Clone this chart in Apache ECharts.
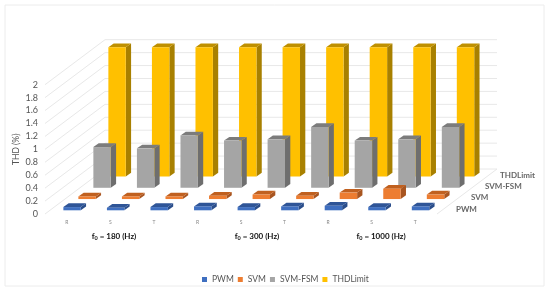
<!DOCTYPE html>
<html><head><meta charset="utf-8">
<script src="https://cdn.jsdelivr.net/npm/echarts@6/dist/echarts.min.js"></script>
<style>html,body{margin:0;padding:0;background:#fff}#c{width:550px;height:293px;filter:blur(0.4px)}</style>
</head><body><div id="c"></div>
<script>
const categories = ['R','S','T','R','S','T','R','S','T'];
const seriesNames = ['PWM','SVM','SVM-FSM','THDLimit'];
const pwm = [0.05,0.04,0.05,0.06,0.05,0.06,0.07,0.05,0.06];
const svm = [0.04,0.04,0.04,0.05,0.07,0.05,0.10,0.16,0.07];
const svmFsm = [0.63,0.61,0.81,0.73,0.75,0.94,0.73,0.75,0.94];
const thdLimit = [2,2,2,2,2,2,2,2,2];
const gridTicks = [0,0.2,0.4,0.6,0.8,1,1.2,1.4,1.6,1.8,2];
const groupLabels = ['180','300','1000'];
const groupLabelX = [114,257,381];
const depthLabelX = [456,471,485,500];
const depthLabelY = [209,197,186,175];
const faceColors = [
  {front:'#3f6fc0',top:'#2f5597',side:'#2a4d8a'},
  {front:'#ed7d31',top:'#c0601f',side:'#a85520'},
  {front:'#a5a5a5',top:'#7c7c7c',side:'#6e6e6e'},
  {front:'#ffc000',top:'#bf9000',side:'#a88000'}
];
const values = [pwm,svm,svmFsm,thdLimit];
const depthX=60, depthY=-45, barDx=5.3, barDy=-3.7, slotDx=15, slotDy=-11.25;

function poly(pts,fill){return {type:'polygon',shape:{points:pts},style:{fill:fill}};}
function barRender(s){
  return function(params,api){
    const cat=api.value(0), v=api.value(1);
    const c0=api.coord([cat,0]), c1=api.coord([cat,v]);
    const w=api.size([1,0])[0]*0.4;
    const ox=barDx+slotDx*s, oy=barDy+slotDy*s;
    const x0=c0[0]-w/2+ox, x1=x0+w, yb=c0[1]+oy, yt=c1[1]+oy;
    const col=faceColors[s];
    return {type:'group',children:[
      poly([[x1,yb],[x1+barDx,yb+barDy],[x1+barDx,yt+barDy],[x1,yt]],col.side),
      poly([[x0,yt],[x1,yt],[x1+barDx,yt+barDy],[x0+barDx,yt+barDy]],col.top),
      poly([[x0,yb],[x1,yb],[x1,yt],[x0,yt]],col.front)
    ]};
  };
}
function wallRender(params,api){
  const t=api.value(1), cs=params.coordSys, p=api.coord([0,t]);
  const left=cs.x, right=cs.x+cs.width, y=p[1];
  const st={stroke:'#e8e8e8',lineWidth:1,fill:null};
  const kids=[
    {type:'line',shape:{x1:left,y1:y,x2:left+depthX,y2:y+depthY},style:st},
    {type:'line',shape:{x1:left+depthX,y1:y+depthY,x2:right+depthX,y2:y+depthY},style:st}
  ];
  if(t===0) kids.push({type:'line',shape:{x1:right,y1:y,x2:right+depthX,y2:y+depthY},style:st});
  return {type:'group',children:kids};
}
const labelFont='Lato';
const graphics=[
  {type:'rect',z:-10,shape:{x:5,y:5,width:539,height:281},style:{fill:'#fff',stroke:'#ececec',lineWidth:1}}
];
groupLabels.forEach((g,i)=>graphics.push({type:'text',x:groupLabelX[i],y:236,z:10,style:{
  text:'{b|f}{s|0}{b| = '+g+' (Hz)}',align:'center',verticalAlign:'middle',
  rich:{b:{fontFamily:labelFont,fontSize:8,fontWeight:'bold',fill:'#111'},
        s:{fontFamily:labelFont,fontSize:5.5,fontWeight:'bold',fill:'#111',padding:[5,0,0,0]}}
}}));
seriesNames.forEach((n,i)=>graphics.push({type:'text',x:depthLabelX[i],y:depthLabelY[i],z:10,style:{
  text:n,align:'left',verticalAlign:'middle',fontFamily:labelFont,fontSize:8,fontWeight:'bold',fill:'#666'
}}));

const series=[{
  name:'walls',type:'custom',silent:true,z:1,renderItem:wallRender,
  data:gridTicks.map(t=>[0,t]),encode:{x:0,y:1}
}];
seriesNames.forEach((n,s)=>series.push({
  name:n,type:'custom',z:5-s,renderItem:barRender(s),
  itemStyle:{color:faceColors[s].front},
  encode:{x:0,y:1},
  data:values[s].map((v,i)=>[i,v])
}));

const chart=echarts.init(document.getElementById('c'),null,{renderer:'canvas'});
chart.setOption({
  animation:false,
  backgroundColor:'#fff',
  textStyle:{fontFamily:labelFont},
  grid:{left:45,right:113,top:84.7,bottom:79,outerBoundsMode:'none'},
  legend:{data:seriesNames,left:197,top:270,itemWidth:5,itemHeight:5,itemGap:4,icon:'rect',
    textStyle:{fontFamily:labelFont,fontSize:8.5,color:'#555'}},
  xAxis:{type:'category',data:categories,boundaryGap:true,
    axisLine:{show:false},axisTick:{show:false},splitLine:{show:false},
    axisLabel:{fontSize:5,color:'#888',margin:6,interval:0}},
  yAxis:{type:'value',min:0,max:2,interval:0.2,
    name:'THD (%)',nameLocation:'middle',nameGap:24,nameMoveOverlap:false,
    nameTextStyle:{fontFamily:labelFont,fontSize:8.5,color:'#555'},
    axisLine:{show:false},axisTick:{show:false},splitLine:{show:false},
    axisLabel:{fontSize:9,color:'#555',margin:7,
      formatter:v=>String(Math.round(v*10)/10)}},
  graphic:graphics,
  series:series
});
</script></body></html>
